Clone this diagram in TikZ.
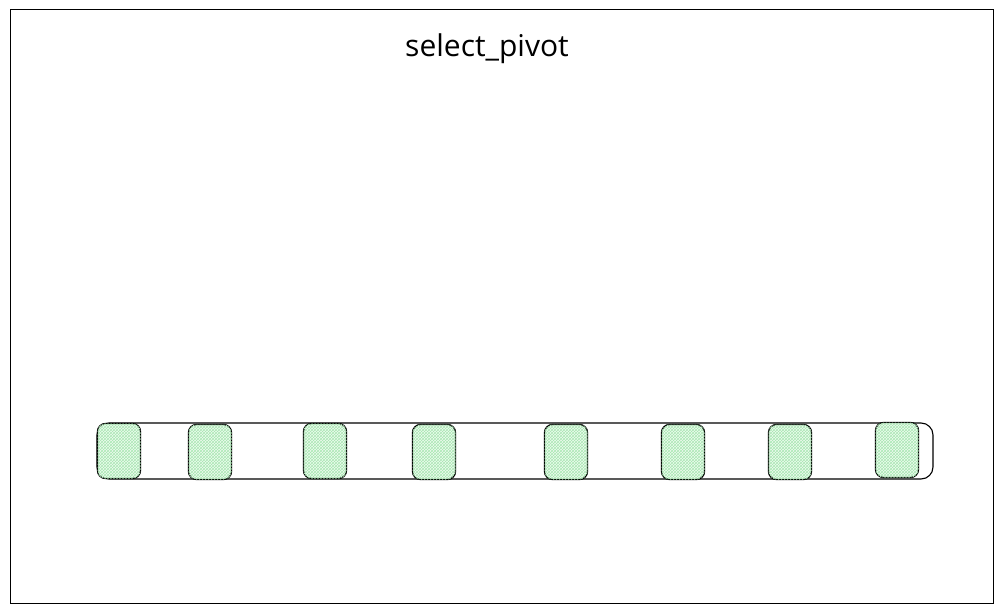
\documentclass[tikz,border=0pt]{standalone}
\usepackage{fontspec}
\usepackage{tikz}
\usetikzlibrary{patterns}
\setmainfont{Open Sans}

\definecolor{cellfill}{HTML}{EEFBF0}
\definecolor{cellhatch}{HTML}{A9E8B3}

\begin{document}
\begin{tikzpicture}[x=1pt,y=-1pt,
        frame/.style={draw,line width=1pt,minimum width=983pt,minimum height=594pt,inner sep=0pt},
        track/.style={draw,rounded corners=12pt,line width=1.1pt,minimum width=836pt,minimum height=56pt,inner sep=0pt},
        cell/.style={draw,rounded corners=8pt,line width=1.3pt,fill=cellfill,minimum width=43pt,minimum height=55pt,inner sep=0pt,
            postaction={pattern=crosshatch,pattern color=cellhatch}}]
        \useasboundingbox (0,0) rectangle (1004,613);

        \node[frame] at (501.5, 306) (box) {};
        \node at (487, 49) (title) {\fontsize{30}{34}\selectfont select\_pivot};

        \node[track] at (515, 451) (row) {};

        \node[cell] at (119, 451) (c1) {};
        \node[cell] at (210, 452) (c2) {};
        \node[cell] at (325, 451) (c3) {};
        \node[cell] at (434, 452) (c4) {};
        \node[cell] at (566, 452) (c5) {};
        \node[cell] at (683, 452) (c6) {};
        \node[cell] at (790, 452) (c7) {};
        \node[cell] at (897, 450) (c8) {};
    \end{tikzpicture}
\end{document}
